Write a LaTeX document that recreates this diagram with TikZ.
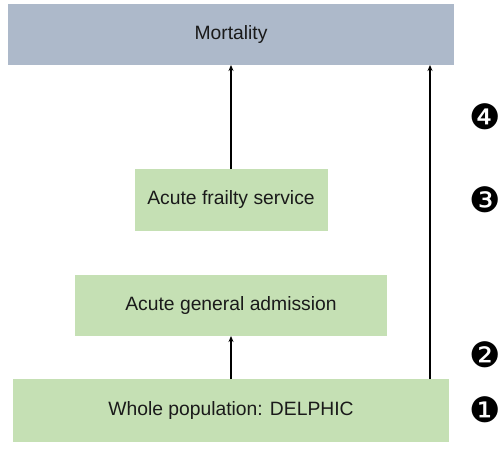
\documentclass[tikz,border=0pt]{standalone}
\usepackage{fontspec}
\setmainfont{Liberation Sans}
\newfontfamily\dingfont{DejaVu Sans}
\usetikzlibrary{arrows.meta,calc}
\definecolor{mortblue}{HTML}{ADB9CA}
\definecolor{boxgreen}{HTML}{C5E0B4}
\definecolor{txt}{HTML}{1A1A1A}
\tikzset{
  box/.style={rectangle, inner sep=0pt, outer sep=0pt, text=txt, font=\fontsize{19.3}{22}\selectfont},
  mortbox/.style={box, fill=mortblue},
  greenbox/.style={box, fill=boxgreen},
  arr/.style={-{Stealth[length=6pt,width=5pt]}, line width=1.2pt, black},
  numlabel/.style={inner sep=0pt, font=\dingfont\fontsize{35}{35}\selectfont}
}
\begin{document}
\begin{tikzpicture}[x=1pt,y=-1pt]
\useasboundingbox[fill=white] (0,0) rectangle (500,450);
\node[mortbox, minimum width=446pt, minimum height=61pt] (mort) at (231,34.5) {Mortality};
\node[greenbox, minimum width=193pt, minimum height=62pt] (frail) at (231,200) {Acute frailty service};
\node[greenbox, minimum width=312pt, minimum height=61pt] (adm) at (231,305.5) {Acute general admission};
\node[greenbox, minimum width=436pt, minimum height=63pt] (whole) at (231,410.5) {Whole population: DELPHIC};
\coordinate (rc) at (430,0);
\draw[arr] (frail.north) -- (frail.north |- mort.south);
\draw[arr] (whole.north) -- (whole.north |- adm.south);
\draw[arr] (whole.north -| rc) -- (mort.south -| rc);
\node[numlabel] (n4) at (485,117) {❹};
\node[numlabel] (n3) at (485,200) {❸};
\node[numlabel] (n2) at (485,355) {❷};
\node[numlabel] (n1) at (485,410) {❶};
\end{tikzpicture}
\end{document}
